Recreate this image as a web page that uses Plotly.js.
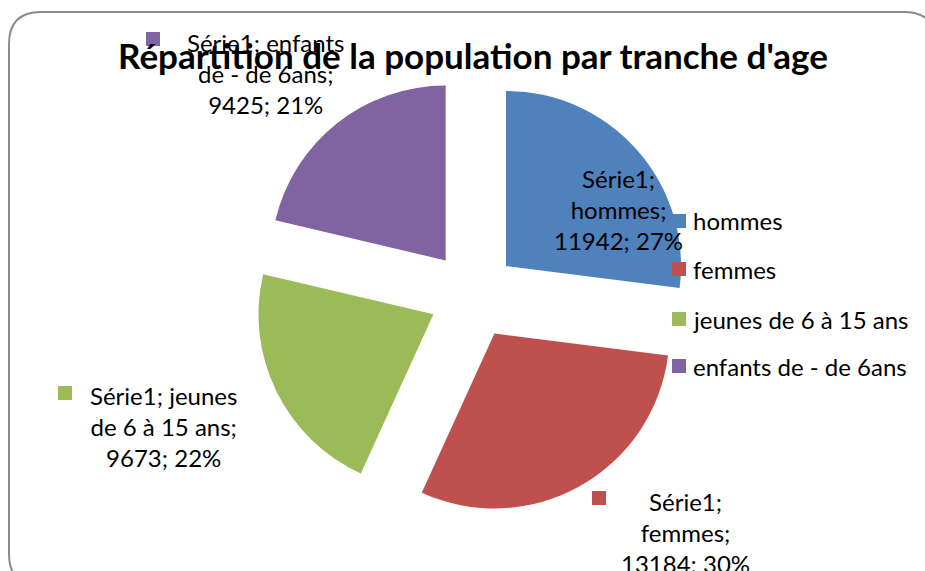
<!DOCTYPE html>
<html>
<head>
<meta charset="utf-8">
<script src="https://cdn.plot.ly/plotly-3.0.1.min.js"></script>
<style>
  html, body { margin: 0; padding: 0; background: #fff; }
  #chart { width: 925px; height: 571px; }
</style>
</head>
<body>
<div id="chart"></div>
<script>
// ---- data ----
const chartTitle = "Répartition de la population par tranche d'age";
const seriesName = 'Série1';
const categories = ['hommes', 'femmes', 'jeunes de 6 à 15 ans', 'enfants de - de 6ans'];
const values = [11942, 13184, 9673, 9425];
const colors = ['#4F81BD', '#C0504D', '#9BBB59', '#8064A2'];

// ---- layout helpers (pixel -> paper, margins are 0) ----
const W = 925, H = 571;
const px = x => x / W;
const py = y => 1 - y / H;

const total = values.reduce((a, b) => a + b, 0);
const pct = values.map(v => Math.round(v / total * 100));

function wrap(text, maxChars) {
  const words = text.split(' ');
  const lines = [];
  let cur = '';
  words.forEach(w => {
    const t = cur ? cur + ' ' + w : w;
    if (t.length > maxChars && cur) { lines.push(cur); cur = w; } else { cur = t; }
  });
  if (cur) lines.push(cur);
  return lines.join('<br>');
}

// data label boxes (centre of text block, wrap width, marker position)
const labelPos = [
  { x: 618, y: 209, wrap: 10, marker: null },
  { x: 685, y: 532, wrap: 10, marker: [592, 491] },
  { x: 163, y: 426, wrap: 15, marker: [58, 386] },
  { x: 266, y: 73,  wrap: 15, marker: [146, 32] }
];
const legendPos = [221, 269, 319, 366];

// pie geometry: centre (473,295), radius 175, pull 44px
const cx = 473, cy = 295, r = 175, pullPx = 44;
const pull = pullPx / r;
const half = r * (1 + pull);

const LABEL_FONT = 'Lato, "Liberation Sans", sans-serif';
const FS = 24;

const trace = {
  type: 'pie',
  labels: categories,
  values: values,
  sort: false,
  direction: 'clockwise',
  rotation: 0,
  pull: pull,
  textinfo: 'none',
  hoverinfo: 'none',
  showlegend: false,
  marker: { colors: colors, line: { width: 0 } },
  domain: { x: [px(cx - half), px(cx + half)], y: [py(cy + half), py(cy - half)] }
};

const annotations = [];
const shapes = [];

// frame (rounded rectangle)
(function () {
  const x0 = 9, x1 = 936, y0 = 12, y1 = 586, rr = 32;
  const P = (x, y) => px(x) + ',' + py(y);
  const path = 'M ' + P(x0 + rr, y0) + ' L ' + P(x1 - rr, y0) + ' Q ' + P(x1, y0) + ' ' + P(x1, y0 + rr) +
    ' L ' + P(x1, y1 - rr) + ' Q ' + P(x1, y1) + ' ' + P(x1 - rr, y1) +
    ' L ' + P(x0 + rr, y1) + ' Q ' + P(x0, y1) + ' ' + P(x0, y1 - rr) +
    ' L ' + P(x0, y0 + rr) + ' Q ' + P(x0, y0) + ' ' + P(x0 + rr, y0) + ' Z';
  shapes.push({ type: 'path', xref: 'paper', yref: 'paper', path: path,
    line: { color: '#8C8C8C', width: 2 }, layer: 'below' });
})();

// data labels
categories.forEach((c, i) => {
  const p = labelPos[i];
  const txt = wrap(seriesName + '; ' + c + '; ' + values[i] + '; ' + pct[i] + '%', p.wrap);
  annotations.push({
    xref: 'paper', yref: 'paper', x: px(p.x), y: py(p.y),
    xanchor: 'center', yanchor: 'middle', align: 'center',
    showarrow: false, text: txt,
    font: { family: LABEL_FONT, size: FS, color: '#000' }
  });
  if (p.marker) {
    const [mx, my] = p.marker;
    shapes.push({ type: 'rect', xref: 'paper', yref: 'paper',
      x0: px(mx), x1: px(mx + 14), y0: py(my + 14), y1: py(my),
      fillcolor: colors[i], line: { width: 0 } });
  }
});

// legend
categories.forEach((c, i) => {
  const y = legendPos[i];
  shapes.push({ type: 'rect', xref: 'paper', yref: 'paper',
    x0: px(672), x1: px(686), y0: py(y + 7), y1: py(y - 7),
    fillcolor: colors[i], line: { width: 0 } });
  annotations.push({
    xref: 'paper', yref: 'paper', x: px(691), y: py(y),
    xanchor: 'left', yanchor: 'middle', align: 'left',
    showarrow: false, text: c,
    font: { family: LABEL_FONT, size: FS, color: '#000' }
  });
});

const layout = {
  width: W, height: H,
  margin: { l: 0, r: 0, t: 0, b: 0 },
  paper_bgcolor: '#fff',
  showlegend: false,
  title: {
    text: chartTitle,
    x: px(473), y: py(57), xref: 'paper', yref: 'paper',
    xanchor: 'center', yanchor: 'middle',
    font: { family: LABEL_FONT, size: 35, color: '#000', weight: 'bold' }
  },
  annotations: annotations,
  shapes: shapes
};

Plotly.newPlot('chart', [trace], layout, { staticPlot: true, displayModeBar: false });
</script>
</body>
</html>
